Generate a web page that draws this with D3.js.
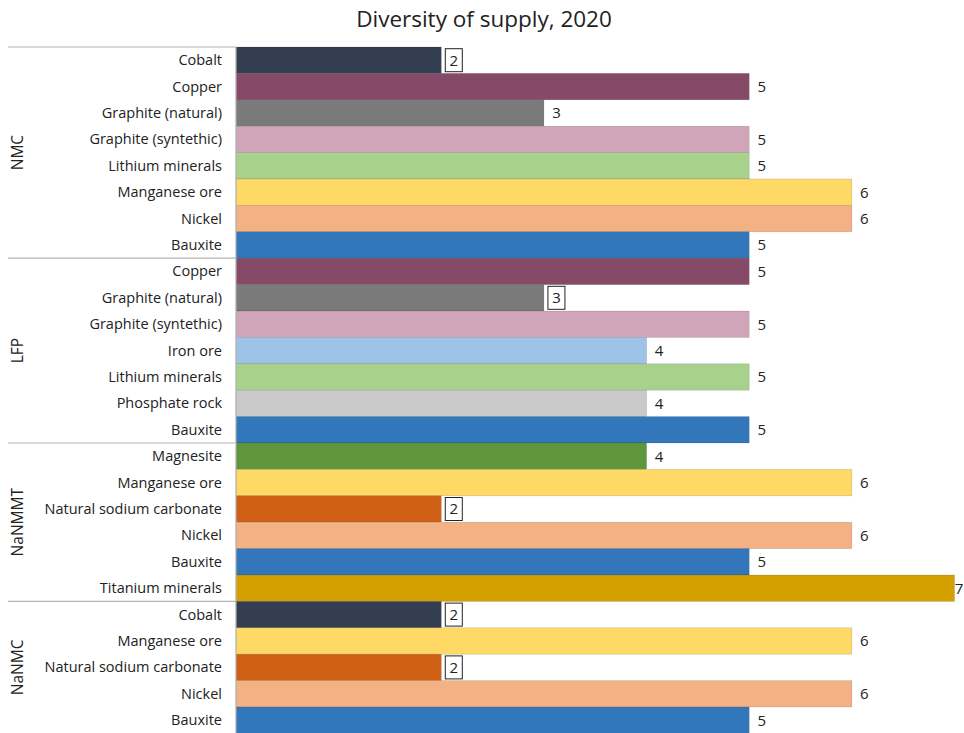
<!DOCTYPE html>
<html lang="en">
<head>
    <meta charset="UTF-8">
    <title>Diversity of supply, 2020</title>
    <script src="https://d3js.org/d3.v7.min.js"></script>
    <style>
        body { margin: 0; background: #fff; }
        svg text { font-family: "Open Sans", sans-serif; fill: #222; }
    </style>
</head>
<body>
    <svg id="chart" width="964" height="733"></svg>

    <script>
        // Chemistries (groups) and their materials, in drawing order
        const groups = ["NMC", "LFP", "NaNMMT", "NaNMC"];
        const materials = [
            ["Cobalt", "Copper", "Graphite (natural)", "Graphite (syntethic)", "Lithium minerals", "Manganese ore", "Nickel", "Bauxite"],
            ["Copper", "Graphite (natural)", "Graphite (syntethic)", "Iron ore", "Lithium minerals", "Phosphate rock", "Bauxite"],
            ["Magnesite", "Manganese ore", "Natural sodium carbonate", "Nickel", "Bauxite", "Titanium minerals"],
            ["Cobalt", "Manganese ore", "Natural sodium carbonate", "Nickel", "Bauxite"]
        ];
        const values = [
            [2, 5, 3, 5, 5, 6, 6, 5],
            [5, 3, 5, 4, 5, 4, 5],
            [4, 6, 2, 6, 5, 7],
            [2, 6, 2, 6, 5]
        ];
        // labels drawn with a framed box in the original
        const boxedLabels = ["NMC|Cobalt", "LFP|Graphite (natural)", "NaNMMT|Natural sodium carbonate", "NaNMC|Cobalt", "NaNMC|Natural sodium carbonate"];

        const colors = {
            "Cobalt": "#333f50",
            "Copper": "#854a67",
            "Graphite (natural)": "#7a7a7a",
            "Graphite (syntethic)": "#d0a5b9",
            "Lithium minerals": "#a8d18d",
            "Manganese ore": "#ffd966",
            "Nickel": "#f4b183",
            "Bauxite": "#3277b9",
            "Iron ore": "#9dc3e6",
            "Phosphate rock": "#c9c9c9",
            "Magnesite": "#5f963c",
            "Natural sodium carbonate": "#d06014",
            "Titanium minerals": "#d4a000"
        };

        const width = 964;
        const margin = { top: 47, left: 236, right: 10 };
        const rowH = 26.4;

        // flatten rows
        const rows = [];
        groups.forEach((g, gi) => {
            materials[gi].forEach((m, mi) => {
                rows.push({ group: g, material: m, value: values[gi][mi], key: g + "|" + m });
            });
        });

        const svg = d3.select("#chart");

        const y = d3.scaleBand()
            .domain(rows.map(d => d.key))
            .range([margin.top, margin.top + rows.length * rowH])
            .padding(0);

        const x = d3.scaleLinear()
            .domain([0, 7])
            .range([margin.left, 954.5]);

        // Title
        svg.append("text")
            .attr("x", 484)
            .attr("y", 27)
            .attr("text-anchor", "middle")
            .attr("font-size", "22.5px")
            .text("Diversity of supply, 2020");

        // Bars
        svg.append("g")
            .selectAll("rect")
            .data(rows)
            .join("rect")
            .attr("x", x(0))
            .attr("y", d => y(d.key))
            .attr("width", d => x(d.value) - x(0))
            .attr("height", y.bandwidth())
            .attr("fill", d => colors[d.material])
            .attr("stroke", "rgba(0,0,0,0.18)")
            .attr("stroke-width", 0.6);

        // Category labels
        svg.append("g")
            .selectAll("text")
            .data(rows)
            .join("text")
            .attr("x", margin.left - 14)
            .attr("y", d => y(d.key) + y.bandwidth() / 2)
            .attr("dy", "0.35em")
            .attr("text-anchor", "end")
            .attr("font-size", "14.5px")
            .text(d => d.material);

        // Value labels (kept inside the frame at the right edge)
        const vl = svg.append("g")
            .selectAll("g")
            .data(rows)
            .join("g")
            .attr("transform", d => `translate(${Math.min(x(d.value) + 12.5, width - 5)},${y(d.key) + y.bandwidth() / 2})`);

        vl.filter(d => boxedLabels.includes(d.key))
            .append("rect")
            .attr("x", -8.5)
            .attr("y", -11.5)
            .attr("width", 17)
            .attr("height", 23)
            .attr("fill", "#fff")
            .attr("stroke", "#222")
            .attr("stroke-width", 1);

        vl.append("text")
            .attr("text-anchor", "middle")
            .attr("dy", "0.36em")
            .attr("font-size", "15px")
            .text(d => d.value);

        // Group separators and labels
        let offset = 0;
        groups.forEach((g, gi) => {
            const n = materials[gi].length;
            const y0 = margin.top + offset * rowH;
            const y1 = y0 + n * rowH;
            svg.append("line")
                .attr("x1", 8).attr("x2", margin.left)
                .attr("y1", y0).attr("y2", y0)
                .attr("stroke", "#b5b5b5")
                .attr("stroke-width", 1.2);
            svg.append("text")
                .attr("transform", `translate(23,${(y0 + y1) / 2}) rotate(-90)`)
                .attr("text-anchor", "middle")
                .attr("font-size", "15.5px")
                .text(g);
            offset += n;
        });

        // Axis line
        svg.append("line")
            .attr("x1", margin.left).attr("x2", margin.left)
            .attr("y1", margin.top).attr("y2", 733)
            .attr("stroke", "#b5b5b5")
            .attr("stroke-width", 1.2);
    </script>
</body>
</html>
